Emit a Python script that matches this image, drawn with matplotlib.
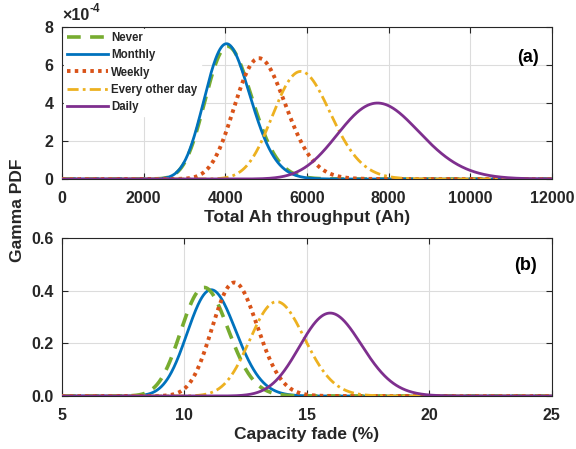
import math
import numpy as np
import matplotlib
matplotlib.use("Agg")
import matplotlib.pyplot as plt

# Usage scenarios
scenarios = ["Never", "Monthly", "Weekly", "Every other day", "Daily"]

# Gamma distribution parameters (mean, standard deviation)
ah_mean = [4140, 4108, 4911, 5935, 7859]
ah_std = [576, 565, 632, 709, 1005]
fade_mean = [10.89, 11.18, 12.11, 13.86, 16.05]
fade_std = [0.971, 0.992, 0.928, 1.117, 1.27]

colors = ["#77AC30", "#0072BD", "#D95319", "#EDB120", "#7E2F8E"]
styles = [dict(ls=(0, (3.8, 2.6)), lw=2.6),
          dict(ls="-", lw=2.0),
          dict(ls=(0, (0.9, 1.1)), lw=2.8),
          dict(ls=(0, (4, 1.5, 1, 1.5)), lw=2.0),
          dict(ls="-", lw=2.0)]


def gamma_pdf(x, mean, std):
    shape = (mean / std) ** 2
    scale = std ** 2 / mean
    x = np.asarray(x, dtype=float)
    out = np.zeros_like(x)
    pos = x > 0
    out[pos] = np.exp((shape - 1) * np.log(x[pos]) - x[pos] / scale
                      - math.lgamma(shape) - shape * math.log(scale))
    return out


plt.rcParams["font.family"] = ["Liberation Sans", "DejaVu Sans"]
plt.rcParams["font.weight"] = "bold"
text_col = "#262626"

fig = plt.figure(figsize=(5.76, 4.49), dpi=100)
ax1 = fig.add_axes([0.1076, 0.6013, 0.8504, 0.3387])
ax2 = fig.add_axes([0.1076, 0.1180, 0.8504, 0.3520])

x1 = np.linspace(0, 12000, 1200)
x2 = np.linspace(5, 25, 1200)

for i, name in enumerate(scenarios):
    z1 = 2 + i
    z2 = 2 + i if i != 0 else 3.5
    ax1.plot(x1, gamma_pdf(x1, ah_mean[i], ah_std[i]) * 1e4, color=colors[i],
             label=name, zorder=z1, **styles[i])
    ax2.plot(x2, gamma_pdf(x2, fade_mean[i], fade_std[i]), color=colors[i],
             zorder=z2, **styles[i])

for ax in (ax1, ax2):
    ax.grid(True, color="#dcdcdc", lw=0.8)
    ax.set_axisbelow(True)
    ax.tick_params(direction="in", top=True, right=True, length=4,
                   colors=text_col, labelsize=11.5, width=0.8)
    ax.tick_params(axis="x", pad=8.5)
    ax.tick_params(axis="y", pad=6)
    for s in ax.spines.values():
        s.set_color(text_col)
        s.set_linewidth(0.8)
    for lab in ax.get_xticklabels() + ax.get_yticklabels():
        lab.set_fontweight("bold")

ax1.set_xlim(0, 12000)
ax1.set_ylim(0, 8)
ax1.set_xticks(np.arange(0, 12001, 2000))
ax1.set_yticks([0, 2, 4, 6, 8])
ax1.set_xlabel("Total Ah throughput (Ah)", fontsize=12.5, fontweight="bold",
               color=text_col, labelpad=3)

# exponent marker for the top y axis
base = ax1.text(0.0, 1.025, "×10", transform=ax1.transAxes, fontsize=11.5,
                fontweight="bold", color=text_col, ha="left", va="bottom")
ax1.annotate("-4", xy=(1.0, 0.95), xycoords=base, fontsize=8.5,
             fontweight="bold", color=text_col, ha="left", va="center")

ax1.text(0.973, 0.80, "(a)", transform=ax1.transAxes, fontsize=13,
         fontweight="bold", ha="right", va="center", color="black")

leg = ax1.legend(loc="upper left", frameon=True, fontsize=8.3,
                 handlelength=3.5, handletextpad=0.3, labelspacing=0.45,
                 borderaxespad=0.15, borderpad=0.3, fancybox=False)
leg.get_frame().set_edgecolor("white")
leg.get_frame().set_alpha(1)
leg.set_zorder(1.9)
for t in leg.get_texts():
    t.set_fontweight("bold")
    t.set_color(text_col)

ax2.set_xlim(5, 25)
ax2.set_ylim(0, 0.6)
ax2.set_xticks([5, 10, 15, 20, 25])
ax2.set_yticks([0, 0.2, 0.4, 0.6])
ax2.set_xlabel("Capacity fade (%)", fontsize=12.5, fontweight="bold",
               color=text_col, labelpad=3)
ax2.text(0.969, 0.825, "(b)", transform=ax2.transAxes, fontsize=13,
         fontweight="bold", ha="right", va="center", color="black")

fig.text(0.03, 0.532, "Gamma PDF", rotation=90, fontsize=12.5,
         fontweight="bold", color=text_col, ha="center", va="center")

fig.savefig("out.png", dpi=100)
